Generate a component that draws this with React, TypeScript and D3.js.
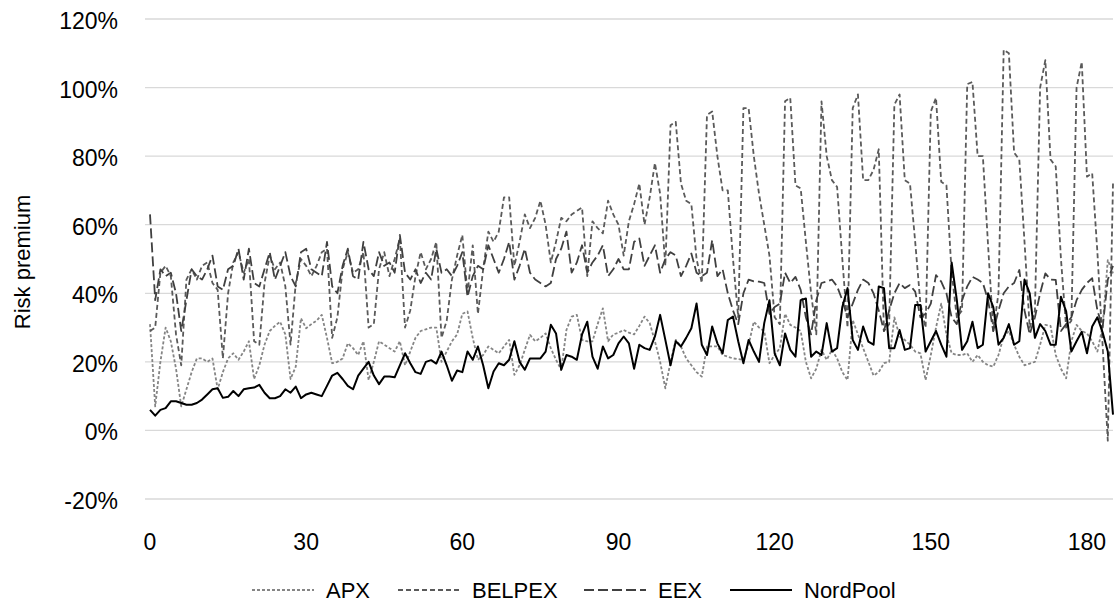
import React from "react";
import * as d3 from "d3";

// day index 0..185
const days = d3.range(0, 186);
const yTicks = [-20, 0, 20, 40, 60, 80, 100, 120];
const xTicks = [0, 30, 60, 90, 120, 150, 180];

// risk premium in %
const apx = [
  31, 7, 20, 30, 26, 18, 7, 12, 17, 21, 21, 20, 21, 12, 17, 21, 22.5, 20.6, 23, 26,
  15, 19, 25, 29, 30.5, 31.7, 28, 15, 18.6, 32.7, 29.8, 31, 32,
  33.7, 27, 19.6, 20, 21, 25.4, 24, 22, 26, 14.7, 20, 26, 25, 24, 23, 26, 19, 23, 27, 29,
  29.5, 30, 30, 20, 23, 26, 28, 34, 34.7, 27, 20.6, 22, 24.5, 23.5, 22.5, 24.5, 26.4, 16.2,
  19, 23.5, 27.9, 26, 27, 28.3, 24, 20.6, 17.7, 29.3,
  33.2, 33.7, 26.4, 26, 26, 31, 35.6, 26, 28, 28.5, 29.3, 28.5, 28, 30.5, 33.2, 31.3, 26, 20,
  12.3, 20, 26.4, 24.5, 21, 19, 17, 15.7, 24.5, 24.5,
  24.5, 22, 21.5, 21, 20.8, 20.6, 25, 31.7, 30, 29,
  19.6, 22, 24, 34, 30.8, 30, 29, 20, 15.2, 18,
  23.5, 20.6, 23.5, 21, 17, 14.7, 32.2, 28, 24, 20,
  16, 17, 19.6, 20, 33, 27.4, 26.4, 25, 23, 22.5,
  14.7, 22, 30, 37, 28, 22.5, 22, 22, 22.5, 20,
  22, 20, 19, 18.6, 22, 27.4, 29, 25, 21.5, 19,
  19.5, 20, 25, 30.8, 30.5, 22, 18, 15.2, 26, 30.8,
  29, 28.3, 26, 23, 30.3, 49.7, 45.8,
];

const belpex = [
  29, 30, 46, 48, 45, 28, 19, 44, 47, 44, 48, 49, 43, 41, 21, 40, 49, 52, 46, 50,
  26, 25, 43, 51, 47, 49, 42, 25, 43, 50, 48, 45, 48,
  52, 53, 27, 33, 47, 52, 46, 47, 52, 30, 31, 47, 52, 45, 50, 56, 30, 35, 45, 52, 47, 50,
  55, 27, 32, 44, 51, 57, 40, 54, 34, 47, 58, 55, 58, 68, 68, 48, 55, 63, 59, 62, 67, 60,
  49, 55, 62, 61, 63, 64, 65, 45, 61, 59, 57.5, 67, 63, 60, 51, 61, 66, 72, 60, 68, 78, 69, 48,
  89, 90, 72, 67, 66, 50, 43, 92, 93, 80,
  70, 70, 50, 33, 94, 94, 80, 69, 60, 51,
  33, 31, 96, 97, 71.5, 70.6, 55, 40, 28, 96,
  80, 73, 71, 50, 30, 94, 98, 73, 73, 76,
  82, 29, 31, 95, 98, 73, 72, 55, 37, 30,
  93, 97, 72.5, 71.5, 46, 33, 35, 101, 101.6, 80,
  80, 54, 29, 40, 111, 110, 81, 79, 55, 30,
  35, 100, 108, 79, 77, 50, 30, 32, 100, 107.5,
  74, 75, 52, 25, -3, 72,
];

const eex = [
  63, 38, 47, 45, 46, 40, 29, 38, 47, 45, 44, 47, 51, 42, 41, 47, 48, 53, 44, 53,
  43, 42, 47, 52, 44, 48, 52, 45, 42, 52, 53, 47, 46,
  45, 55, 42, 40, 48, 53, 45, 44, 55, 47, 45, 52, 48, 49, 46, 57, 46, 44, 47, 43,
  46, 44, 53, 46, 47, 45, 48, 52, 39, 45, 48, 47, 54, 50, 46, 50, 55, 44, 48, 53,
  46, 44, 43, 42, 43, 50, 53, 58, 46, 49, 54, 46, 49, 51, 54, 45, 47, 50, 47, 47,
  55, 56, 48, 51, 54, 46,
  50, 52, 51, 45, 48, 51.6, 46, 45, 46, 55.5,
  45, 47, 40, 35, 31, 40, 44, 43.5, 43.4, 43,
  34, 36, 37, 46, 43, 44.8, 41, 33, 28, 38,
  43, 43.4, 44, 42, 38, 33, 37, 41, 44, 43,
  40, 35, 29, 35, 40, 43, 41.5, 42.4, 40.5, 33,
  34, 37, 45.3, 43.4, 40, 33, 31, 38, 42, 44.8,
  44, 43, 38, 29, 35, 40, 42, 43, 46.8, 35,
  28, 33, 40, 45.8, 44, 43.9, 29, 31, 33, 38,
  41, 43, 44.4, 35, 30, 44, 48,
];

const nordPool = [
  6, 4.3, 6, 6.5, 8.5, 8.5, 8, 7.5, 7.5, 8, 9, 10.5, 12, 12.3, 9.5, 9.8, 11.5, 10, 12, 12.3,
  12.5, 13.3, 11, 9.4, 9.4, 10, 12, 11, 12.8, 9.4, 10.5, 11, 10.5,
  10, 13, 16, 16.8, 15, 13, 12, 16,
  18, 20, 16, 13.5, 15.7, 15.7, 15.5, 19, 22.5, 19.6, 17, 16.5, 20, 20.5, 19.5, 23, 19, 14.5, 17.5, 17, 23,
  20.6, 24.5, 19, 12.3, 17.2, 19.6, 19, 20.6, 26, 20, 17.7, 21, 21, 21, 23, 30.8, 28.3, 17.7, 22, 21.5,
  20.6, 28, 31.7, 21.5, 18, 24.5, 21, 22, 25.4, 27.4, 25.4, 18, 25, 24, 23.5, 27.4, 33.7, 26.4, 19, 26, 24.5,
  27, 29.8, 37, 25, 22, 30.3, 25.4, 22.5, 32.2, 33.2, 26, 19.6, 26.4, 23, 20, 31.3, 38, 22.5, 19, 28.3,
  23.5, 21.5, 38, 38.5, 21.5, 23,
  22, 31.3, 23, 24, 36, 41.5, 26.4, 23.5, 30.3, 25.9, 25, 42, 41.5, 24, 24, 29.3,
  23.5, 24, 36.6, 36.6, 23, 26, 29, 25, 21.5, 49, 38, 23.5, 26, 31.7, 24, 25, 40, 36, 25, 27, 31,
  25, 26, 44, 40, 27, 31, 29, 25, 25, 39, 34.7, 23, 26, 28.8, 22.5, 30.3, 33, 28.6, 23, 4.6,
];

const seriesNames = ["APX", "BELPEX", "EEX", "NordPool"];
const seriesValues = [apx, belpex, eex, nordPool];
const seriesColors = ["#858585", "#5a5a5a", "#404040", "#000000"];
const seriesDash = ["3,2", "5,3", "10,4", null];
const legendX = [252, 398, 584, 730];

const FONT = "'Liberation Sans', Arial, Helvetica, sans-serif";

export default function App() {
  const W = 1117;
  const H = 604;
  const x = d3.scaleLinear().domain([0, 185]).range([150, 1113]);
  const y = d3.scaleLinear().domain([-20, 120]).range([499, 19]);

  const line = (vals: number[]) =>
    d3
      .line<number>()
      .x((_, i) => x(days[i]))
      .y((d) => y(d))(vals.slice(0, days.length)) || "";

  return (
    <svg
      width={W}
      height={H}
      style={{ position: "absolute", left: 0, top: 0, background: "#fff" }}
      fontFamily={FONT}
    >
      {/* grid + y labels */}
      {yTicks.map((t) => (
        <g key={t}>
          <line x1={145} x2={1113} y1={y(t)} y2={y(t)} stroke="#d9d9d9" strokeWidth={1.3} />
          <text x={118} y={y(t) + 10} textAnchor="end" fontSize={23} fill="#000">
            {t}%
          </text>
        </g>
      ))}
      {xTicks.map((t) => (
        <text key={t} x={x(t)} y={550} textAnchor="middle" fontSize={23} fill="#000">
          {t}
        </text>
      ))}
      <text
        transform="translate(30,262) rotate(-90)"
        textAnchor="middle"
        fontSize={22}
        fill="#000"
      >
        Risk premium
      </text>

      {seriesValues.map((vals, k) => (
        <path
          key={seriesNames[k]}
          d={line(vals)}
          fill="none"
          stroke={seriesColors[k]}
          strokeWidth={k === 3 ? 2 : 1.8}
          strokeDasharray={seriesDash[k] || undefined}
          strokeLinejoin="round"
        />
      ))}

      {/* legend */}
      {seriesNames.map((name, k) => (
        <g key={name} transform={`translate(${legendX[k]},590)`}>
          <line
            x1={0}
            x2={62}
            y1={0}
            y2={0}
            stroke={seriesColors[k]}
            strokeWidth={k === 3 ? 2 : 1.8}
            strokeDasharray={seriesDash[k] || undefined}
          />
          <text x={74} y={8} fontSize={22} fill="#000">
            {name}
          </text>
        </g>
      ))}
    </svg>
  );
}
